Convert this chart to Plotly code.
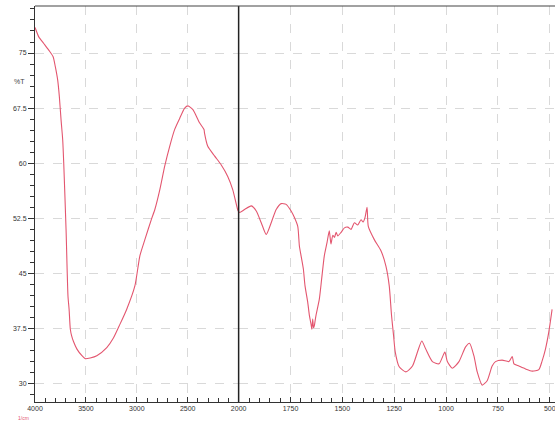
import plotly.graph_objects as go

# Wavenumber (cm^-1) and transmittance (%T)
wavenumber = [4000, 3995, 3963, 3914, 3865, 3822, 3800, 3777, 3761, 3744, 3728, 3718, 3695, 3676,
              3665, 3653, 3640, 3621, 3588, 3539, 3507, 3458, 3393, 3295, 3230, 3165, 3100, 3019,
              2970, 2921, 2856, 2823, 2774, 2726, 2677, 2628, 2579, 2530, 2498, 2449, 2384, 2340,
              2335, 2303, 2237, 2172, 2107, 2058, 2010, 2000,
              1995, 1971, 1939, 1915, 1891, 1867, 1843, 1819, 1795, 1771, 1747, 1731, 1715, 1707,
              1699, 1688, 1680, 1667, 1659, 1651, 1647, 1643, 1639, 1635, 1631, 1627, 1611, 1600,
              1587, 1574, 1563, 1555, 1546, 1538, 1530, 1522, 1506, 1490, 1474, 1458, 1442, 1426,
              1410, 1400, 1391, 1381, 1375, 1346, 1314, 1290, 1274, 1263, 1253, 1245, 1226, 1194,
              1162, 1138, 1117, 1098, 1066, 1034, 1006, 994, 970, 938, 906, 887, 866, 850, 826,
              802, 778, 762, 730, 697, 681, 673, 649, 617, 585, 553, 537, 521, 505, 489]
transmittance = [78.5, 78.3, 77.2, 76.3, 75.4, 74.5, 73.1, 71.3, 69.1, 65.9, 63.2, 60.1, 51.0, 41.9,
                 40.1, 37.4, 36.5, 35.7, 34.7, 33.8, 33.4, 33.5, 33.8, 34.9, 36.2, 38.1, 40.1, 43.3,
                 47.4, 49.6, 52.4, 53.7, 56.4, 59.6, 62.3, 64.6, 66.1, 67.5, 67.8, 67.3, 65.5, 64.6,
                 64.1, 62.3, 61.0, 59.8, 58.2, 56.4, 53.7, 53.4,
                 53.3, 53.7, 54.2, 53.5, 51.9, 50.3, 51.9, 53.7, 54.5, 54.4, 53.5, 52.6, 51.4, 48.7,
                 47.4, 45.6, 43.3, 41.1, 39.3, 38.1, 37.4, 38.8, 37.6, 37.9, 38.6, 39.3, 41.5, 44.2,
                 47.4, 49.2, 50.8, 49.0, 50.2, 49.9, 50.6, 50.1, 50.6, 51.2, 51.3, 51.0, 51.9, 51.6,
                 52.3, 52.0, 52.6, 54.0, 51.4, 49.6, 48.1, 46.0, 43.3, 39.3, 36.5, 34.3, 32.3, 31.6,
                 32.4, 34.3, 35.8, 34.7, 33.0, 32.7, 34.3, 33.0, 32.1, 33.0, 35.0, 35.5, 33.8, 31.6,
                 29.8, 30.4, 32.4, 33.0, 33.2, 33.0, 33.7, 32.7, 32.4, 32.0, 31.7, 31.9, 33.1, 34.7,
                 37.0, 40.1]

x_ticks_high = [4000, 3500, 3000, 2500]
x_ticks_low = [2000, 1750, 1500, 1250, 1000, 750, 500]
y_ticks = [30, 37.5, 45, 52.5, 60, 67.5, 75]
y_ticklabels = ["30", "37.5", "45", "52.5", "60", "67.5", "75"]

line_color = "#e3566f"
split = 0.3916

hi_w = [w for w in wavenumber if w >= 2000]
hi_t = [t for w, t in zip(wavenumber, transmittance) if w >= 2000]
lo_w = [w for w in wavenumber if w <= 2000]
lo_t = [t for w, t in zip(wavenumber, transmittance) if w <= 2000]

fig = go.Figure()
fig.add_trace(go.Scatter(x=hi_w, y=hi_t, mode="lines", line=dict(color=line_color, width=1.1, shape="spline", smoothing=0.6),
                         xaxis="x", yaxis="y", showlegend=False, hoverinfo="x+y"))
fig.add_trace(go.Scatter(x=lo_w, y=lo_t, mode="lines", line=dict(color=line_color, width=1.1, shape="spline", smoothing=0.6),
                         xaxis="x2", yaxis="y", showlegend=False, hoverinfo="x+y"))

tickfont = dict(family="Liberation Sans Narrow, Liberation Sans, Arial, sans-serif", size=7, color="#333333")
grid = dict(showgrid=True, gridcolor="#d9d9d9", griddash="dash", gridwidth=1)

fig.update_layout(
    width=555, height=423,
    margin=dict(l=35, r=0, t=6, b=21, autoexpand=False),
    paper_bgcolor="white", plot_bgcolor="white",
    xaxis=dict(domain=[0, split], range=[4000, 2000], tickmode="array", tickvals=x_ticks_high,
               ticktext=[str(v) for v in x_ticks_high], ticks="inside", ticklen=5, tickcolor="#333",
               showline=True, linecolor="#333", linewidth=1, tickfont=tickfont, zeroline=False,
               automargin=False, ticklabeloverflow="allow",
               minor=dict(dtick=100, tick0=0, ticks="inside", ticklen=4, tickcolor="#333", showgrid=False),
               anchor="y", **grid),
    xaxis2=dict(domain=[split, 1], range=[2000, 475], tickmode="array", tickvals=x_ticks_low,
                ticktext=[str(v) for v in x_ticks_low], ticks="inside", ticklen=5, tickcolor="#333",
                showline=True, linecolor="#333", linewidth=1, tickfont=tickfont, zeroline=False,
                automargin=False, ticklabeloverflow="allow",
                minor=dict(dtick=50, tick0=0, ticks="inside", ticklen=4, tickcolor="#333", showgrid=False),
                anchor="y", **grid),
    yaxis=dict(range=[27.5, 81.4], tickmode="array", tickvals=y_ticks, ticktext=y_ticklabels,
               ticks="outside", ticklen=6, tickcolor="#333", showline=True, linecolor="#333",
               linewidth=1, tickfont=tickfont, zeroline=False, automargin=False,
               minor=dict(dtick=1.5, tick0=30, ticks="outside", ticklen=4, tickcolor="#333", showgrid=False),
               anchor="x", **grid),
    shapes=[
        dict(type="line", xref="paper", yref="paper", x0=split, x1=split, y0=0, y1=1,
             line=dict(color="#222222", width=1.5)),
        dict(type="line", xref="paper", yref="paper", x0=0, x1=1, y0=1, y1=1,
             line=dict(color="#444444", width=1.2)),
    ],
    annotations=[
        dict(text="%T", xref="paper", yref="y", x=0, y=71.1, xanchor="right", xshift=-8,
             showarrow=False, font=dict(family="Liberation Sans, Arial, sans-serif", size=7, color="#444")),
        dict(text="1/cm", xref="paper", yref="paper", x=0, y=0, xanchor="center", yanchor="top",
             xshift=-12, yshift=-11, showarrow=False,
             font=dict(family="Liberation Sans, Arial, sans-serif", size=5, color=line_color)),
    ],
)

fig.write_html("out.html", config={"displayModeBar": False},
               post_script="document.body.style.margin='0';")
